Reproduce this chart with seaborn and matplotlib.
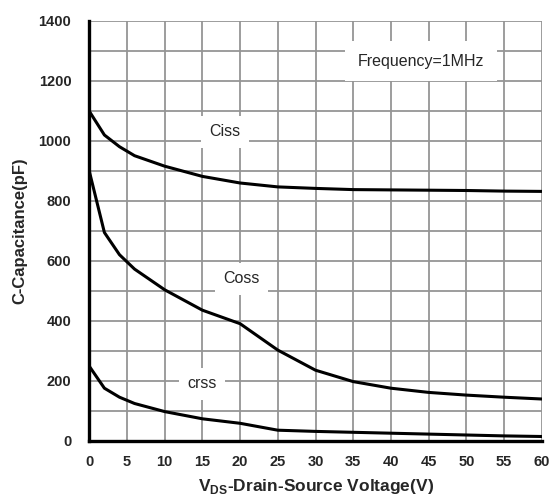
import matplotlib
matplotlib.use("Agg")
import matplotlib.pyplot as plt
import seaborn as sns
import pandas as pd
from matplotlib.ticker import MultipleLocator

vds = [0, 2, 4, 6, 10, 15, 20, 25, 30, 35, 40, 45, 50, 55, 60]
ciss = [1098, 1019, 980, 950, 915, 881, 859, 846, 841, 837, 836, 835, 834, 832, 831]
coss = [898, 694, 620, 572, 503, 435, 390, 302, 235, 197, 175, 161, 152, 145, 139]
crss = [248, 175, 145, 124, 97, 73, 58, 35, 31, 28, 25, 22, 19, 16, 14]
series_names = ["Ciss", "Coss", "crss"]
x_ticks = list(range(0, 61, 5))
y_ticks = list(range(0, 1401, 200))

sns.set_theme(style="white")
plt.rcParams["font.family"] = ["Liberation Sans", "DejaVu Sans"]
plt.rcParams["mathtext.fontset"] = "custom"
plt.rcParams["mathtext.bf"] = "Liberation Sans:bold"
plt.rcParams["mathtext.rm"] = "Liberation Sans:bold"

df = pd.DataFrame({
    "V": vds * 3,
    "C": ciss + coss + crss,
    "S": [s for s in series_names for _ in vds],
})

fig = plt.figure(figsize=(5.49, 5.0), dpi=100)
ax = fig.add_axes([0.1627, 0.1186, 0.824, 0.84])

sns.lineplot(data=df, x="V", y="C", hue="S", palette=["black"] * 3,
             linewidth=2.2, legend=False, ax=ax, zorder=3)

ax.set_xlim(0, 60)
ax.set_ylim(0, 1400)
ax.set_xticks(x_ticks)
ax.set_yticks(y_ticks)
ax.yaxis.set_minor_locator(MultipleLocator(100))
ax.grid(True, which="both", color="#959595", linewidth=1.3, zorder=0)
ax.set_axisbelow(True)
ax.tick_params(axis="both", which="both", length=0, labelsize=10.5)
ax.tick_params(axis="x", pad=10)
ax.tick_params(axis="y", pad=13)
for lab in ax.get_xticklabels() + ax.get_yticklabels():
    lab.set_fontweight("bold")

for side in ["top", "right"]:
    ax.spines[side].set_visible(False)
for side in ["left", "bottom"]:
    ax.spines[side].set_color("black")
    ax.spines[side].set_linewidth(2.4)
    ax.spines[side].set_zorder(4)

ax.set_xlabel(r"V$_{\mathregular{DS}}$-Drain-Source Voltage(V)", fontsize=12.5,
              fontweight="bold", labelpad=6)
ax.set_ylabel("C-Capacitance(pF)", fontsize=12, fontweight="bold", labelpad=8)

box = dict(facecolor="white", edgecolor="none", pad=6)
ax.text(18, 1030, "Ciss", fontsize=11.5, ha="center", va="center", bbox=box, zorder=2)
ax.text(20.2, 540, "Coss", fontsize=11.5, ha="center", va="center", bbox=box, zorder=2)
ax.text(14.9, 190, "crss", fontsize=11.5, ha="center", va="center", bbox=box, zorder=2)
ax.text(44, 1265, "Frequency=1MHz", fontsize=11.5, ha="center", va="center",
        bbox=dict(facecolor="white", edgecolor="none", pad=9), zorder=2)

fig.savefig("out.png", dpi=100)
